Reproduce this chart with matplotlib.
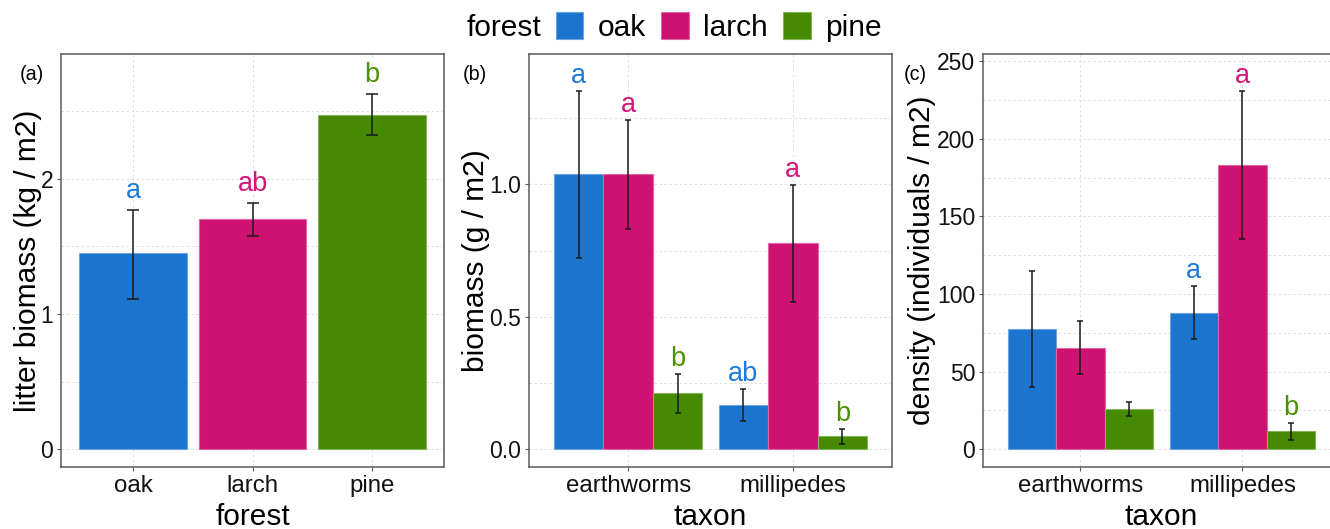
import matplotlib
matplotlib.use('Agg')
import matplotlib.pyplot as plt
from matplotlib.patches import Rectangle
from matplotlib.ticker import FixedLocator
import numpy as np

plt.rcParams['font.family'] = ['Liberation Sans', 'DejaVu Sans']

# ---------------- data ----------------
forests = ['oak', 'larch', 'pine']
forest_colors = ['#1B74CE', '#CE1272', '#458A00']
letter_colors = ['#1F7BD8', '#D3157A', '#4A9300']

litter_mean = [1.45, 1.70, 2.47]
litter_lo = [1.11, 1.58, 2.32]
litter_hi = [1.77, 1.82, 2.63]
litter_letters = ['a', 'ab', 'b']

taxa = ['earthworms', 'millipedes']

biomass_oak = [1.040, 0.167]
biomass_oak_lo = [0.722, 0.107]
biomass_oak_hi = [1.353, 0.229]
biomass_larch = [1.038, 0.777]
biomass_larch_lo = [0.830, 0.555]
biomass_larch_hi = [1.243, 0.997]
biomass_pine = [0.211, 0.049]
biomass_pine_lo = [0.137, 0.019]
biomass_pine_hi = [0.285, 0.075]
biomass_letters_oak = ['a', 'ab']
biomass_letters_larch = ['a', 'a']
biomass_letters_pine = ['b', 'b']

density_oak = [77.6, 87.9]
density_oak_lo = [39.8, 71.0]
density_oak_hi = [115.0, 105.0]
density_larch = [65.4, 183.2]
density_larch_lo = [48.2, 135.3]
density_larch_hi = [82.4, 231.0]
density_pine = [25.6, 11.4]
density_pine_lo = [21.1, 5.6]
density_pine_hi = [30.1, 17.0]
density_letters_oak = ['', 'a']
density_letters_larch = ['', 'a']
density_letters_pine = ['', 'b']

# ---------------- style ----------------
W, H = 1330, 529
fig = plt.figure(figsize=(W / 100, H / 100), dpi=100)

FRAME = '#5a5a5a'
GRID = '#dadada'
YTICK_FS = 16.5
XTICK_FS = 17.3
TITLE_FS = 21.5
LETTER_FS = 19.5


def px_axes(left, right, top, bottom):
    return fig.add_axes([left / W, (H - bottom) / H, (right - left) / W, (bottom - top) / H])


def style_axes(ax, ylim, major, minor, labels):
    ax.set_ylim(*ylim)
    ax.set_yticks(major)
    ax.set_yticklabels(labels)
    ax.yaxis.set_minor_locator(FixedLocator(minor))
    ax.tick_params(axis='y', which='minor', length=0)
    ax.tick_params(axis='both', which='major', length=2.9, width=0.8, color=FRAME,
                   labelcolor='#111111', pad=3.0)
    ax.tick_params(axis='y', which='major', labelsize=YTICK_FS)
    ax.tick_params(axis='x', which='major', labelsize=XTICK_FS, pad=2.6)
    ax.grid(True, which='both', axis='y', color=GRID, linestyle=(0, (3, 3)), linewidth=0.6)
    ax.grid(True, which='major', axis='x', color=GRID, linestyle=(0, (3, 3)), linewidth=0.6)
    ax.set_axisbelow(True)
    for s in ax.spines.values():
        s.set_color(FRAME)
        s.set_linewidth(1.1)


def lighten(c, f=0.35):
    import matplotlib.colors as mc
    r, g, b = mc.to_rgb(c)
    return (r + (1 - r) * f, g + (1 - g) * f, b + (1 - b) * f)


# ---------------- panel (a) ----------------
axa = px_axes(61.3, 444, 54, 467)
xa = np.arange(len(forests))
axa.bar(xa, litter_mean, width=0.9, color=forest_colors,
        edgecolor=[lighten(c) for c in forest_colors], linewidth=0.8, zorder=2)
lm = np.array(litter_mean)
axa.errorbar(xa, lm, yerr=[lm - np.array(litter_lo), np.array(litter_hi) - lm], fmt='none',
             ecolor='#1a1a1a', elinewidth=1.1, capsize=4.0, capthick=1.1, zorder=3)
for x, top, lab, col in zip(xa, litter_hi, litter_letters, letter_colors):
    axa.annotate(lab, (x, top), xytext=(0, 12), textcoords='offset pixels',
                 ha='center', va='baseline', fontsize=LETTER_FS, color=col)
axa.set_xlim(-0.6, len(forests) - 0.4)
axa.set_xticks(xa)
axa.set_xticklabels(forests)
style_axes(axa, (-0.131, 2.922), [0, 1, 2], [0.5, 1.5, 2.5], ['0', '1', '2'])


# ---------------- grouped panels ----------------
def grouped(ax, means, los, his, letters, capsize):
    xt = np.arange(len(taxa))
    for i, (m, lo, hi, lets) in enumerate(zip(means, los, his, letters)):
        x = xt + (i - 1) * 0.3
        m = np.array(m)
        ax.bar(x, m, width=0.3, color=forest_colors[i], edgecolor=lighten(forest_colors[i]),
               linewidth=0.8, zorder=2)
        ax.errorbar(x, m, yerr=[m - np.array(lo), np.array(hi) - m], fmt='none',
                    ecolor='#1a1a1a', elinewidth=1.1, capsize=capsize, capthick=1.1, zorder=3)
        for xx, top, lab in zip(x, hi, lets):
            if lab:
                ax.annotate(lab, (xx, top), xytext=(0, 8), textcoords='offset pixels',
                            ha='center', va='baseline', fontsize=LETTER_FS,
                            color=letter_colors[i])
    ax.set_xlim(-0.6, len(taxa) - 0.4)
    ax.set_xticks(xt)
    ax.set_xticklabels(taxa)


axb = px_axes(529.3, 891.7, 54, 467)
grouped(axb, [biomass_oak, biomass_larch, biomass_pine],
        [biomass_oak_lo, biomass_larch_lo, biomass_pine_lo],
        [biomass_oak_hi, biomass_larch_hi, biomass_pine_hi],
        [biomass_letters_oak, biomass_letters_larch, biomass_letters_pine], 1.9)
style_axes(axb, (-0.0668, 1.492), [0, 0.5, 1.0], [0.25, 0.75, 1.25], ['0.0', '0.5', '1.0'])

axc = px_axes(983.3, 1339.7, 54, 467)
grouped(axc, [density_oak, density_larch, density_pine],
        [density_oak_lo, density_larch_lo, density_pine_lo],
        [density_oak_hi, density_larch_hi, density_pine_hi],
        [density_letters_oak, density_letters_larch, density_letters_pine], 1.9)
style_axes(axc, (-11.6, 254.8), [0, 50, 100, 150, 200, 250], [25, 75, 125, 175, 225],
           ['0', '50', '100', '150', '200', '250'])

# ---------------- titles / labels ----------------
def ftext(x, y, s, **kw):
    fig.text(x / W, (H - y) / H, s, **kw)


ylab_y = (54 + 467) / 2
ftext(28, ylab_y, 'litter biomass (kg / m2)', rotation=90, ha='center', va='center', fontsize=TITLE_FS)
ftext(476, ylab_y, 'biomass (g / m2)', rotation=90, ha='center', va='center', fontsize=TITLE_FS)
ftext(922, ylab_y, 'density (individuals / m2)', rotation=90, ha='center', va='center', fontsize=TITLE_FS)

ftext((61.3 + 444) / 2, 525, 'forest', ha='center', va='baseline', fontsize=TITLE_FS)
ftext((529.3 + 891.7) / 2, 525, 'taxon', ha='center', va='baseline', fontsize=TITLE_FS)
ftext((983.3 + 1339.7) / 2, 525, 'taxon', ha='center', va='baseline', fontsize=TITLE_FS)

ftext(20, 74, '(a)', ha='left', va='center', fontsize=14.2)
ftext(463, 74, '(b)', ha='left', va='center', fontsize=14.2)
ftext(904, 74, '(c)', ha='left', va='center', fontsize=14.2)

# ---------------- legend ----------------
ftext(467, 36, 'forest', ha='left', va='baseline', fontsize=TITLE_FS)
key_x = [555.7, 661, 783]
for kx, name, col in zip(key_x, forests, forest_colors):
    fig.add_artist(Rectangle((kx / W, (H - 39) / H), 27.6 / W, 27.3 / H,
                             transform=fig.transFigure, facecolor=col,
                             edgecolor=lighten(col), linewidth=0.8))
    ftext(kx + 42.3, 36, name, ha='left', va='baseline', fontsize=TITLE_FS)

fig.savefig('out.png', dpi=100)
